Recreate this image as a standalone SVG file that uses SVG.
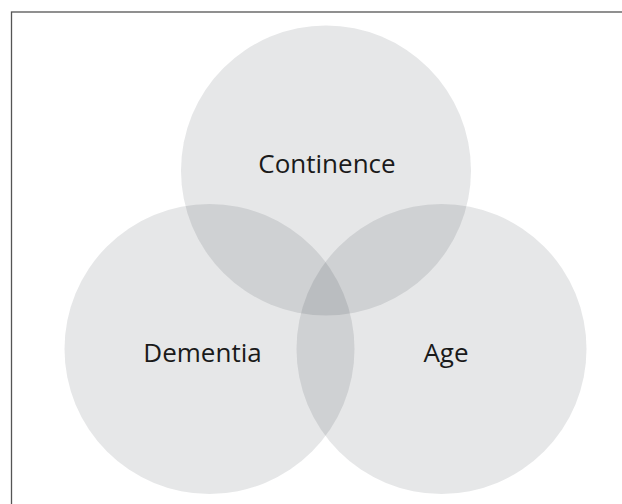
<svg xmlns="http://www.w3.org/2000/svg" width="622" height="504" viewBox="0 0 622 504">
<style>
.c{fill:#0a1420;fill-opacity:0.1;}
.t{font-family:"Open Sans","Noto Sans",sans-serif;font-size:26px;fill:#1a1a1a;text-anchor:middle;}
</style>
<rect x="0" y="0" width="622" height="504" fill="#ffffff"/>
<rect x="11.5" y="12" width="620" height="500" fill="none" stroke="#555" stroke-width="1.3"/>
<g id="continence"><circle class="c" cx="326" cy="170.5" r="145"/><text class="t" x="327" y="173">Continence</text></g>
<g id="dementia"><circle class="c" cx="209.5" cy="349" r="145"/><text class="t" x="202.5" y="362">Dementia</text></g>
<g id="age"><circle class="c" cx="441.5" cy="349" r="145"/><text class="t" x="446" y="362">Age</text></g>
<g id="connectors"></g>
</svg>
